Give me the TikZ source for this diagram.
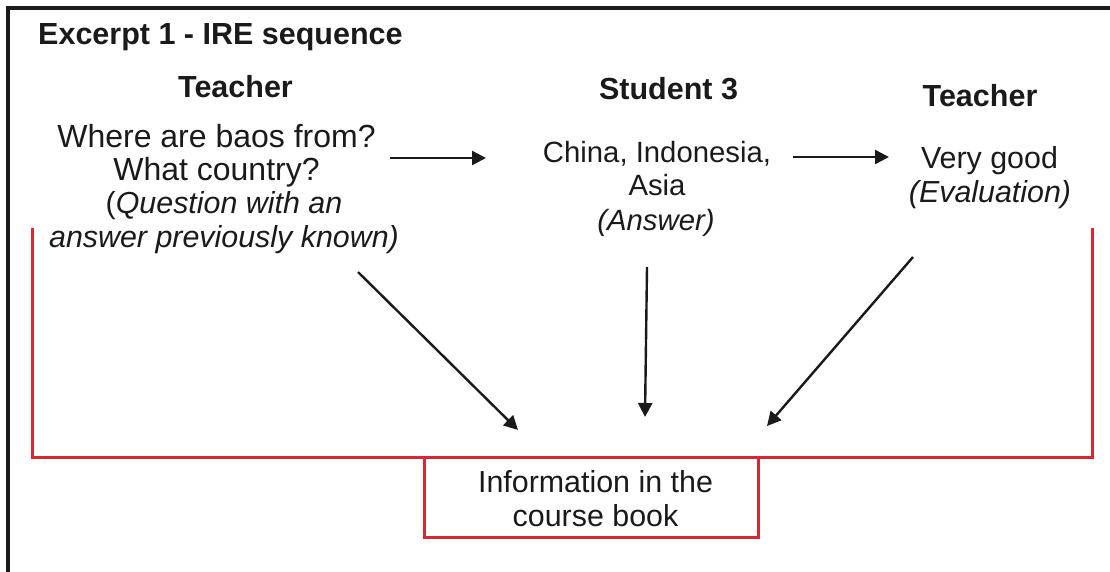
\documentclass[tikz,border=0pt]{standalone}
\usepackage{fontspec}
\setmainfont{Liberation Sans}
\usetikzlibrary{arrows.meta}
\definecolor{bracketred}{RGB}{218,38,48}
\definecolor{ink}{RGB}{26,26,26}
\begin{document}
\begin{tikzpicture}[x=1pt,y=-1pt,
  line/.style={text=ink,anchor=base,inner sep=0pt},
  big/.style={line,font=\fontsize{32}{36}\selectfont},
  mid/.style={line,font=\fontsize{30.4}{36}\selectfont},
  small/.style={line,font=\fontsize{29.3}{36}\selectfont},
  head/.style={line,font=\fontsize{30.5}{36}\selectfont\bfseries},
  flow/.style={draw=ink,line width=2.4pt,-{Triangle[length=14pt,width=14pt]}},
  redline/.style={draw=bracketred,line width=3pt}]
\useasboundingbox (0,0) rectangle (1110,571);
% outer frame, running off the right and bottom edges
\draw[ink,line width=3.5pt] (8,8) rectangle (1130,590);
% headings
\node[head,anchor=base west] (title) at (38,44) {Excerpt 1 - IRE sequence};
\node[head] (t1) at (235.5,97) {Teacher};
\node[head] (s3) at (668.5,99) {Student 3};
\node[head] (t2) at (980,106) {Teacher};
% initiation
\node[big] (q1) at (216.5,147) {Where are baos from?};
\node[big] (q2) at (216.5,180) {What country?};
\node[mid] (q3) at (224,213) {(\textit{Question with an}};
\node[mid] (q4) at (224,247) {\textit{answer previously known)}};
% response
\node[small] (a1) at (657,162) {China, Indonesia,};
\node[small] (a2) at (657,195) {Asia};
\node[small] (a3) at (656,230) {\textit{(Answer)}};
% evaluation
\node[mid] (e1) at (989.5,168) {Very good};
\node[mid] (e2) at (990,202) {\textit{(Evaluation)}};
% red bracket and course book box
\draw[redline] (32,228) -- (32,457) -- (1092,457) -- (1092,228);
\node[draw=bracketred,line width=3pt,minimum width=334pt,minimum height=80pt,inner sep=0pt] (book) at (591,497) {};
\node[mid] (b1) at (595.5,492) {Information in the};
\node[mid] (b2) at (595.5,526) {course book};
% sequence arrows
\coordinate (qr) at (390,158); \coordinate (al) at (486,158);
\coordinate (ar) at (793,157); \coordinate (el) at (889,157);
\draw[flow] (qr) -- (al);
\draw[flow] (ar) -- (el);
% arrows down to the course book
\coordinate (qd) at (358,272); \coordinate (qb) at (518,430);
\coordinate (ad) at (647,267); \coordinate (ab) at (645,417);
\coordinate (ed) at (913,257); \coordinate (eb) at (767,426);
\draw[flow] (qd) -- (qb);
\draw[flow] (ad) -- (ab);
\draw[flow] (ed) -- (eb);
\end{tikzpicture}
\end{document}
